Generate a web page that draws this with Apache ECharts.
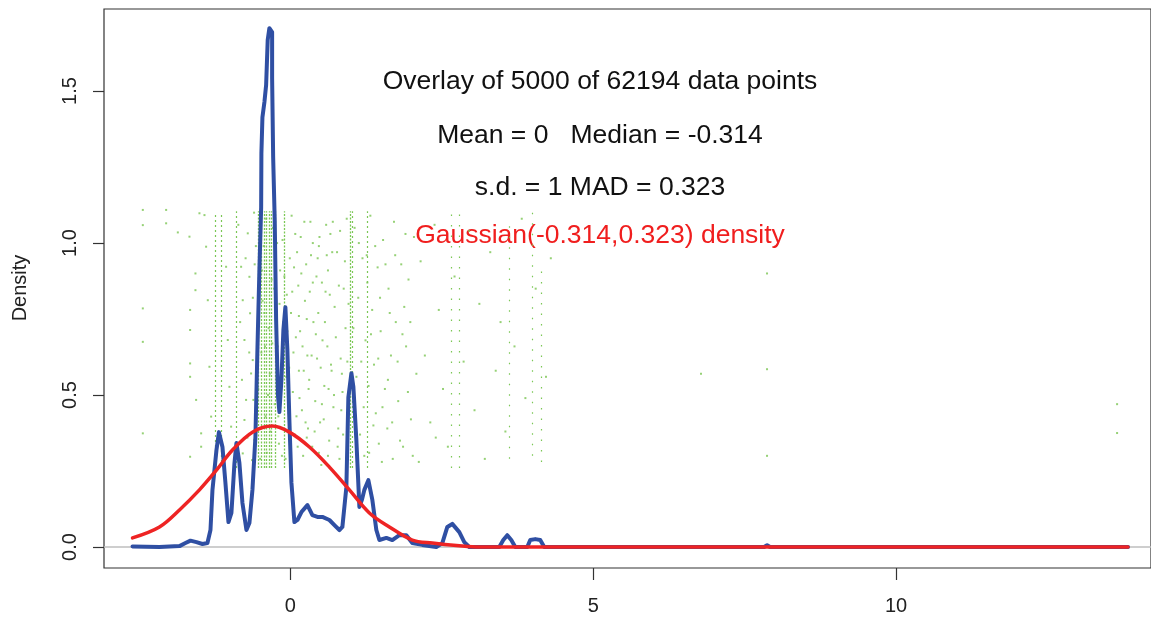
<!DOCTYPE html>
<html>
<head>
<meta charset="utf-8">
<script src="https://cdn.jsdelivr.net/npm/echarts@6/dist/echarts.min.js"></script>
<style>
html,body{margin:0;padding:0;background:#fff;}
#chart{width:1151px;height:619px;}
</style>
</head>
<body>
<div id="chart"></div>
<script>
// ---- data ----
const xTicks = [0, 5, 10];
const yTicks = [0, 0.5, 1.0, 1.5];
const yTickLabels = ['0.0', '0.5', '1.0', '1.5'];
const yAxisTitle = 'Density';
const annotations = [
  'Overlay of 5000 of 62194 data points',
  'Mean = 0   Median = -0.314',
  's.d. = 1 MAD = 0.323'
];
const gaussLabel = 'Gaussian(-0.314,0.323) density';

// kernel density of the data (blue)
const densityCurve = [
  [-2.607,0.002],[-2.162,0.000],[-1.832,0.003],[-1.733,0.013],[-1.650,0.021],[-1.551,0.016],
  [-1.452,0.010],[-1.370,0.013],[-1.320,0.056],[-1.287,0.188],[-1.221,0.319],[-1.180,0.378],
  [-1.122,0.329],[-1.073,0.211],[-1.023,0.082],[-0.974,0.112],[-0.924,0.276],[-0.891,0.342],
  [-0.842,0.276],[-0.792,0.145],[-0.726,0.056],[-0.677,0.079],[-0.627,0.188],[-0.578,0.362],
  [-0.545,0.648],[-0.512,0.911],[-0.483,1.118],[-0.479,1.296],[-0.462,1.414],[-0.429,1.464],
  [-0.401,1.520],[-0.375,1.668],[-0.347,1.707],[-0.302,1.694],[-0.302,1.543],[-0.285,1.283],
  [-0.259,1.076],[-0.236,0.747],[-0.206,0.500],[-0.182,0.444],[-0.149,0.549],[-0.116,0.714],
  [-0.083,0.789],[-0.050,0.648],[-0.017,0.418],[0.017,0.211],[0.066,0.082],[0.116,0.089],
  [0.182,0.115],[0.281,0.138],[0.363,0.105],[0.446,0.099],[0.528,0.099],[0.644,0.089],
  [0.743,0.069],[0.809,0.056],[0.858,0.066],[0.924,0.197],[0.957,0.493],[1.007,0.572],
  [1.040,0.526],[1.089,0.352],[1.139,0.132],[1.180,0.155],[1.221,0.188],[1.287,0.220],
  [1.353,0.155],[1.419,0.056],[1.469,0.023],[1.584,0.030],[1.683,0.023],[1.799,0.039],
  [1.914,0.039],[2.013,0.013],[2.178,0.007],[2.409,0.000],[2.508,0.013],[2.591,0.066],
  [2.673,0.076],[2.789,0.049],[2.871,0.016],[2.954,0.000],[3.449,0.000],[3.515,0.023],
  [3.581,0.039],[3.647,0.023],[3.713,0.000],[3.911,0.000],[3.960,0.023],[4.043,0.026],
  [4.125,0.023],[4.191,0.000],[7.822,0.000],[7.871,0.006],[7.920,0.000],[13.83,0.000]
];

// reference Gaussian density (red)
const gaussCurve = [
  [-2.607,0.030],[-2.162,0.066],[-1.832,0.122],[-1.502,0.188],[-1.221,0.253],[-0.957,0.319],
  [-0.627,0.378],[-0.297,0.398],[-0.017,0.378],[0.314,0.329],[0.644,0.263],[0.974,0.188],
  [1.304,0.112],[1.634,0.066],[2.013,0.023],[2.343,0.013],[2.789,0.004],[3.119,0.000],[13.83,0.000]
];

// heavily repeated data values (columns of jittered points): x, yLow, yHigh, density class
const rugColumns = [
  [-1.238,0.28,1.10,'m'],[-1.147,0.28,1.10,'m'],[-0.896,0.26,1.105,'m'],
  [-0.528,0.26,1.105,'d'],[-0.479,0.26,1.105,'d'],[-0.437,0.26,1.105,'d'],[-0.396,0.26,1.105,'d'],
  [-0.355,0.26,1.105,'d'],[-0.314,0.26,1.105,'d'],[-0.248,0.26,1.105,'d'],[-0.099,0.26,1.105,'d'],
  [0.990,0.26,1.105,'d'],[1.023,0.26,1.105,'m'],[1.276,0.26,1.105,'m'],
  [2.657,0.26,1.105,'s'],[2.789,0.26,1.105,'s'],[3.614,0.29,1.08,'s'],[3.993,0.30,1.105,'s'],[4.142,0.28,0.91,'s']
];

// individual jittered points
const jitterPoints = [
  [-2.437,1.109],[-2.437,1.059],[-2.437,0.785],[-2.437,0.675],[-2.437,0.374],
  [-2.052,1.109],[-2.052,1.065],[-1.859,1.035],[-1.667,1.021],[-1.656,0.780],[-1.656,0.714],
  [-1.656,0.604],[-1.656,0.560],[-1.656,0.297],[-1.568,0.900],[-1.568,0.845],[-1.557,0.484],
  [-1.474,0.374],[-1.474,0.330],[-1.502,1.098],[-1.419,1.092],[-1.392,0.988],[-1.364,0.812],
  [-1.337,0.593],[-1.309,0.429],[-1.062,0.922],[-1.034,0.681],[-1.007,0.527],[-0.979,0.396],
  [-1.007,0.308],[-0.814,0.922],[-0.787,0.812],[-0.759,0.681],[-0.732,0.484],[-0.759,0.418],
  [-0.787,0.308],[-0.704,1.032],[-0.677,0.889],[-0.666,0.769],[-0.622,0.615],[-0.649,0.571],
  [-0.611,0.484],[-0.594,0.352],[-0.633,0.286],
  [-0.59,0.93],[-0.51,1.07],[-0.48,0.64],[-0.56,0.38],[-0.46,0.81],[-0.53,0.52],
  [-0.44,0.99],[-0.36,0.72],[-0.41,0.43],[-0.31,0.88],[-0.39,0.31],[-0.34,0.57],
  [-0.29,1.05],[-0.21,0.66],[-0.26,0.47],[-0.17,0.91],[-0.24,0.78],[-0.19,0.34],[-0.16,0.55],
  [-0.13,1.01],[-0.06,0.83],[-0.11,0.62],[-0.03,0.44],[-0.08,0.29],[-0.01,0.95],[-0.12,0.74],
  [0.02,1.09],[0.09,0.69],[0.04,0.51],[0.13,0.86],[0.07,0.37],[0.11,0.97],[0.01,0.77],[0.14,0.58],
  [0.17,1.02],[0.24,0.81],[0.19,0.45],[0.28,0.63],[0.21,0.30],[0.26,0.93],[0.16,0.71],[0.29,0.39],
  [0.33,1.07],[0.38,0.74],[0.31,0.55],[0.43,0.89],[0.36,0.33],[0.41,0.48],[0.34,0.96],[0.44,0.62],
  [0.47,0.99],[0.53,0.68],[0.49,0.41],[0.58,0.84],[0.51,0.27],[0.56,0.53],[0.46,0.77],[0.59,1.06],
  [0.62,0.91],[0.68,0.58],[0.64,0.35],[0.73,0.79],[0.66,1.03],[0.71,0.46],[0.61,0.66],
  [0.77,0.97],[0.83,0.62],[0.79,0.39],[0.88,0.85],[0.81,0.29],[0.86,0.51],[0.93,1.08],[0.91,0.72],
  [-0.57,0.99],[-0.42,0.66],[-0.22,1.00],[-0.07,0.56],[0.06,0.92],[0.22,0.58],[0.37,0.87],
  [0.52,0.47],[0.69,0.97],[0.84,0.45],[0.27,0.36],[0.12,0.33],[0.48,1.02],[0.63,0.52],
  [-0.86,1.06],[-0.83,0.74],[-0.80,0.55],[-0.74,0.95],[-0.71,0.36],[-0.68,0.64],[-0.62,0.82],[-0.60,1.10],
  [-0.50,0.29],[-0.47,0.91],[-0.43,0.77],[-0.40,1.08],[-0.37,0.50],[-0.33,0.38],[-0.30,0.67],[-0.27,0.85],
  [-0.23,0.56],[-0.20,0.43],[-0.18,0.80],[-0.14,0.30],[-0.10,0.89],[-0.05,0.71],[-0.02,0.59],[0.00,0.35],
  [0.03,0.84],[0.05,0.64],[0.08,1.03],[0.10,0.43],[0.14,0.76],[0.15,0.49],[0.18,0.90],[0.20,0.66],
  [0.23,1.07],[0.25,0.41],[0.27,0.75],[0.30,0.52],[0.32,0.84],[0.35,0.63],[0.37,1.00],[0.40,0.38],
  [0.42,0.70],[0.45,0.95],[0.47,0.31],[0.50,0.59],[0.52,0.87],[0.55,0.42],[0.57,0.74],[0.60,0.96],
  [0.62,0.30],[0.65,0.83],[0.67,0.60],[0.70,1.07],[0.72,0.50],[0.75,0.69],[0.78,0.33],[0.80,0.86],
  [0.82,1.04],[0.85,0.57],[0.87,0.37],[0.90,0.94],[0.94,0.61],[0.96,0.80],
  [1.06,1.05],[1.12,0.82],[1.09,0.56],[1.15,0.37],[1.19,0.95],[1.24,0.68],[1.21,0.46],[1.32,1.09],
  [1.35,0.78],[1.30,0.31],[1.38,0.60],[1.44,0.92],[1.41,0.44],[1.49,0.71],[1.53,1.01],[1.56,0.52],
  [1.51,0.28],[1.62,0.85],[1.66,0.63],[1.60,0.39],[1.71,1.07],[1.74,0.74],[1.78,0.48],[1.83,0.93],
  [1.86,0.33],[1.91,0.66],[1.95,0.88],[1.99,0.42],[2.04,1.02],[2.08,0.57],[1.27,0.87],[1.46,0.34],
  [1.69,0.29],[1.88,0.79],[2.02,0.30],
  [1.04,0.72],[1.08,0.43],[1.13,1.00],[1.17,0.61],[1.22,0.30],[1.26,0.96],[1.29,0.53],[1.33,0.70],
  [1.37,0.40],[1.40,0.99],[1.45,0.62],[1.48,0.82],[1.52,0.46],[1.57,0.93],[1.61,0.55],[1.64,0.77],
  [1.68,0.41],[1.73,0.96],[1.77,0.61],[1.81,0.35],[1.85,0.70],[1.90,1.03],[1.94,0.51],[1.98,0.74],
  [2.15,0.94],[2.22,0.63],[2.31,0.41],[2.38,1.06],[2.45,0.78],[2.52,0.52],[2.60,0.33],[2.71,0.89],
  [2.86,0.61],[2.95,1.04],[3.04,0.45],[3.12,0.80],[3.21,0.29],[3.30,0.97],[3.39,0.58],[3.47,0.74],
  [3.55,0.38],[3.70,0.66],[3.82,1.08],[3.88,0.49],[4.05,0.85],[4.22,0.56],[4.30,0.95],[2.12,0.28],
  [2.40,0.36],
  [6.78,0.57],[7.87,0.90],[7.87,0.585],[7.87,0.30],[13.65,0.47],[13.65,0.375]
];

// ---- chart ----
const dashFor = { d: [2, 1.5], m: [2, 3], s: [1.5, 9] };
const FONT = '"Liberation Sans", Arial, sans-serif';
const chart = echarts.init(document.getElementById('chart'), null, { renderer: 'canvas' });

chart.setOption({
  animation: false,
  backgroundColor: '#ffffff',
  grid: {
    left: 104, right: -1, top: 9, bottom: 51,
    show: true, borderColor: '#333', borderWidth: 1.2, backgroundColor: 'transparent',
    containLabel: false
  },
  xAxis: {
    type: 'value', min: -3.078, max: 14.21, position: 'bottom',
    axisLine: { show: false, onZero: false },
    splitLine: { show: false },
    axisTick: { show: true, inside: false, customValues: xTicks, length: 12, lineStyle: { color: '#333', width: 1.2 } },
    axisLabel: { customValues: xTicks, margin: 28, fontSize: 20, color: '#222', fontFamily: FONT }
  },
  yAxis: {
    type: 'value', min: -0.069, max: 1.770, position: 'left',
    axisLine: { show: false, onZero: false },
    splitLine: { show: false },
    axisTick: { show: true, inside: false, customValues: yTicks, length: 11, lineStyle: { color: '#333', width: 1.2 } },
    axisLabel: {
      customValues: yTicks, rotate: 90, margin: 24, fontSize: 20, color: '#222', fontFamily: FONT,
      formatter: v => { const i = yTicks.findIndex(t => Math.abs(t - v) < 1e-9); return i >= 0 ? yTickLabels[i] : ''; }
    }
  },
  graphic: [
    { type: 'text', x: 20, y: 288, rotation: Math.PI / 2,
      style: { text: yAxisTitle, font: '20px ' + FONT, fill: '#222', textAlign: 'center', textVerticalAlign: 'middle' } },
    { type: 'text', x: 600, y: 82, style: { text: annotations[0], font: '26.5px ' + FONT, fill: '#111', textAlign: 'center', textVerticalAlign: 'middle' } },
    { type: 'text', x: 600, y: 136, style: { text: annotations[1], font: '26.5px ' + FONT, fill: '#111', textAlign: 'center', textVerticalAlign: 'middle' } },
    { type: 'text', x: 600, y: 188, style: { text: annotations[2], font: '26.5px ' + FONT, fill: '#111', textAlign: 'center', textVerticalAlign: 'middle' } },
    { type: 'text', x: 600, y: 236, style: { text: gaussLabel, font: '26.5px ' + FONT, fill: '#f01e1e', textAlign: 'center', textVerticalAlign: 'middle' } }
  ],
  series: [
    {
      type: 'lines', coordinateSystem: 'cartesian2d', z: 1, silent: true,
      lineStyle: { color: '#74c44c', width: 1.2, opacity: 0.95 },
      data: rugColumns.map(c => ({
        coords: [[c[0], c[1]], [c[0], c[2]]],
        lineStyle: { type: dashFor[c[3]], color: '#74c44c', width: c[3] === 'd' ? 1.3 : 1.2 }
      }))
    },
    {
      type: 'scatter', z: 1, silent: true, symbol: 'rect', symbolSize: 2,
      itemStyle: { color: '#7cc654' },
      data: jitterPoints
    },
    {
      type: 'line', z: 3, silent: true, showSymbol: false, symbol: 'none',
      lineStyle: { color: '#2f4fa3', width: 4, join: 'round', cap: 'round' },
      data: densityCurve,
      markLine: {
        silent: true, symbol: 'none', label: { show: false }, z: 2,
        lineStyle: { color: '#bebebe', width: 1.5, type: 'solid' },
        data: [{ yAxis: 0 }]
      }
    },
    {
      type: 'line', z: 4, silent: true, showSymbol: false, symbol: 'none', smooth: 0.35,
      lineStyle: { color: '#ee2424', width: 3.5, cap: 'round' },
      data: gaussCurve
    }
  ]
});
</script>
</body>
</html>
